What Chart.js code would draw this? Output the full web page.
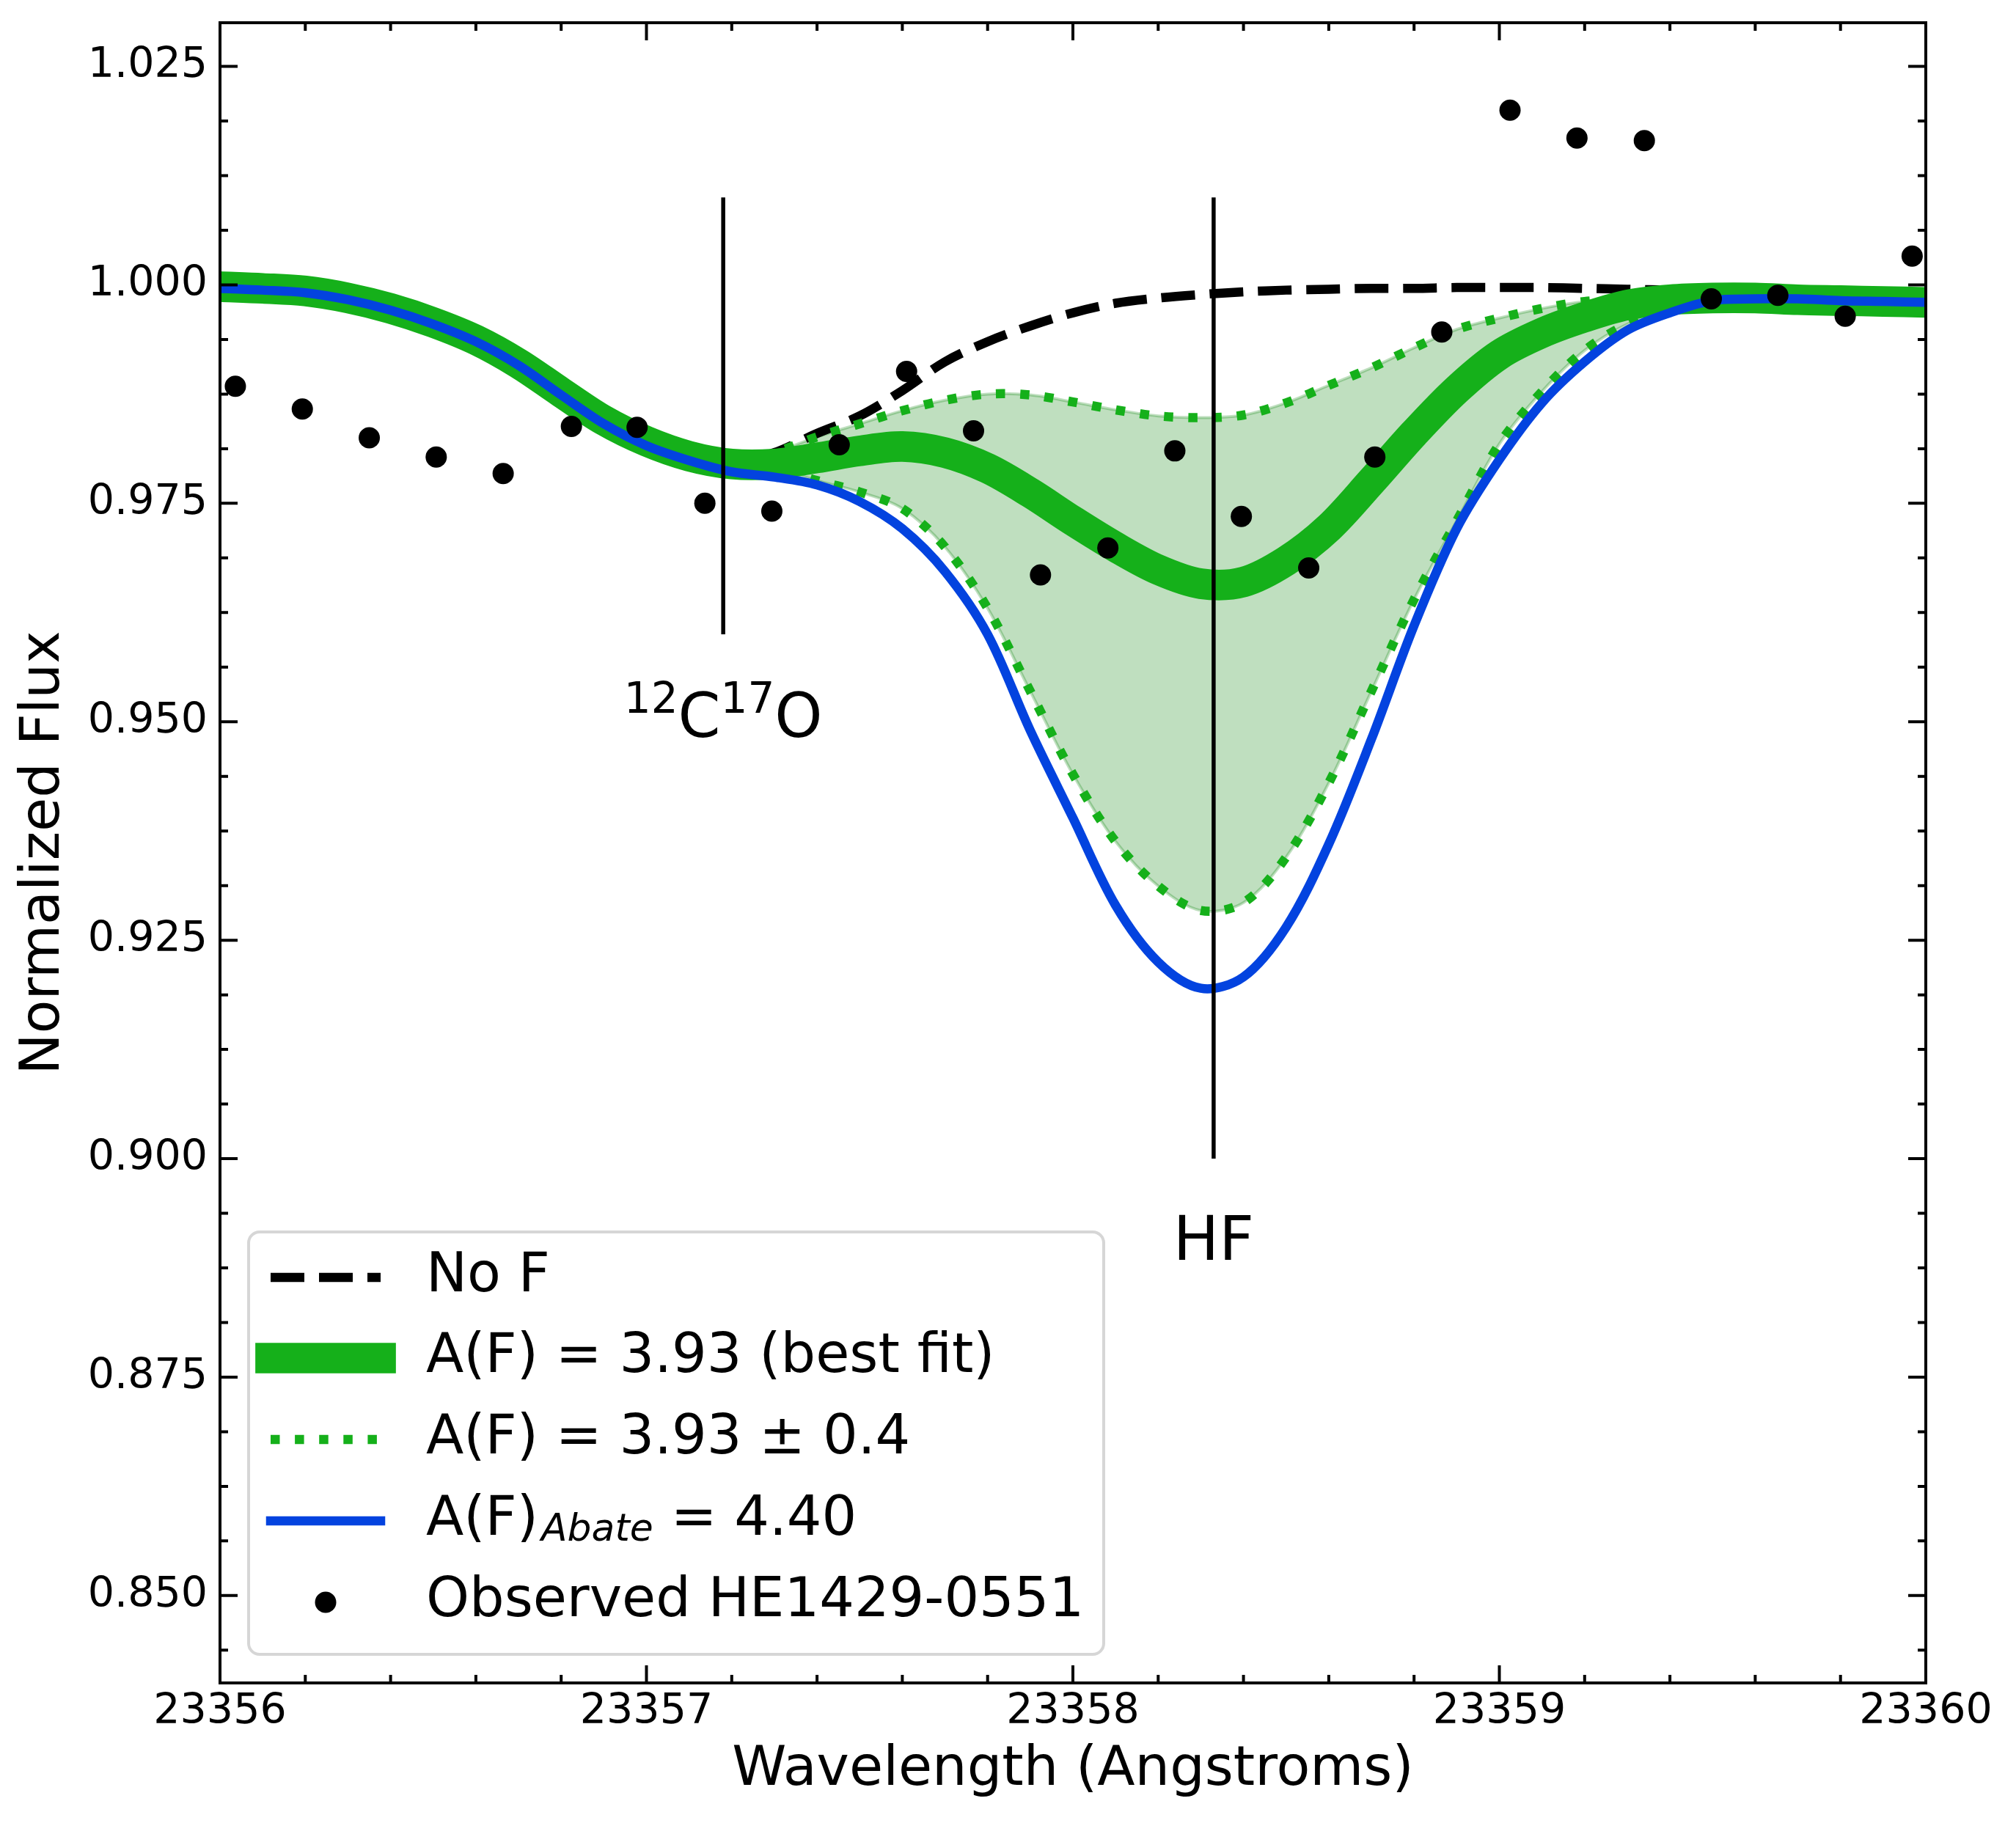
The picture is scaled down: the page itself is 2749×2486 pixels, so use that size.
<!DOCTYPE html>
<html>
<head>
<meta charset="utf-8">
<title>HF 23358 A line fit</title>
<script src="https://cdn.jsdelivr.net/npm/chart.js@4.4.1/dist/chart.umd.min.js"></script>
<style>
  html, body { margin: 0; padding: 0; background: #fff; }
  canvas { display: block; }
</style>
</head>
<body>
<canvas id="spectrum" width="2749" height="2486" style="width:2749px;height:2486px"></canvas>
<script>
// model spectra, sampled every 0.1 A
const modelWave = [
  23356.0, 23356.1, 23356.2, 23356.3, 23356.4, 23356.5, 23356.6, 23356.7, 23356.8, 23356.9,
  23357.0, 23357.1, 23357.2, 23357.3, 23357.4, 23357.5, 23357.6, 23357.7, 23357.8, 23357.9,
  23358.0, 23358.1, 23358.2, 23358.3, 23358.4, 23358.5, 23358.6, 23358.7, 23358.8, 23358.9,
  23359.0, 23359.1, 23359.2, 23359.3, 23359.4, 23359.5, 23359.6, 23359.7, 23359.8, 23359.9,
  23360.0
];
const noF = [
  0.9998, 0.9996, 0.9993, 0.9985, 0.9973, 0.9957, 0.9937, 0.9910, 0.9877, 0.9845,
  0.9821, 0.9804, 0.9795, 0.9808, 0.9830, 0.9850, 0.9879, 0.9912, 0.9935, 0.9953,
  0.9968, 0.9979, 0.9985, 0.9989, 0.9992, 0.9994, 0.9995, 0.9996, 0.9996, 0.9997,
  0.9997, 0.9997, 0.9996, 0.9995, 0.9994, 0.9993, 0.9993, 0.9992, 0.9992, 0.9991,
  0.9991
];
const bestFit = [
  0.9998, 0.9996, 0.9993, 0.9985, 0.9973, 0.9957, 0.9937, 0.9910, 0.9877, 0.9845,
  0.9821, 0.9804, 0.9795, 0.9795, 0.9802, 0.9810, 0.9815, 0.9808, 0.9790, 0.9762,
  0.9730, 0.9700, 0.9674, 0.9658, 0.9660, 0.9684, 0.9722, 0.9775, 0.9830, 0.9880,
  0.9920, 0.9945, 0.9963, 0.9977, 0.9983, 0.9985, 0.9985, 0.9983, 0.9982, 0.9981,
  0.9980
];
const fitUpper = [
  0.9998, 0.9996, 0.9993, 0.9985, 0.9973, 0.9957, 0.9937, 0.9910, 0.9877, 0.9845,
  0.9821, 0.9804, 0.9795, 0.9808, 0.9826, 0.9841, 0.9856, 0.9868, 0.9875, 0.9874,
  0.9866, 0.9857, 0.9850, 0.9848, 0.9851, 0.9865, 0.9885, 0.9905, 0.9928, 0.9949,
  0.9962, 0.9973, 0.9981, 0.9984, 0.9985, 0.9985, 0.9985, 0.9984, 0.9983, 0.9982,
  0.9981
];
const fitLower = [
  0.9998, 0.9996, 0.9993, 0.9985, 0.9973, 0.9957, 0.9937, 0.9910, 0.9877, 0.9845,
  0.9821, 0.9804, 0.9795, 0.9790, 0.9776, 0.9763, 0.9744, 0.9700, 0.9630, 0.9535,
  0.9440, 0.9363, 0.9312, 0.9284, 0.9293, 0.9345, 0.9430, 0.9535, 0.9640, 0.9730,
  0.9818, 0.9878, 0.9925, 0.9955, 0.9972, 0.9980, 0.9982, 0.9982, 0.9981, 0.9981,
  0.9980
];
const abate = [
  0.9996, 0.9994, 0.9991, 0.9983, 0.9971, 0.9955, 0.9935, 0.9908, 0.9874, 0.9841,
  0.9816, 0.9799, 0.9786, 0.9780, 0.9771, 0.9752, 0.9721, 0.9672, 0.9600, 0.9490,
  0.9390, 0.9290, 0.9225, 0.9195, 0.9208, 0.9265, 0.9360, 0.9480, 0.9610, 0.9721,
  0.9800, 0.9865, 0.9912, 0.9948, 0.9968, 0.9982, 0.9984, 0.9984, 0.9982, 0.9981,
  0.9980
];

// observed HE1429-0551
const obsWave = [
  23356.036, 23356.193, 23356.350, 23356.507, 23356.664, 23356.824, 23356.978,
  23357.137, 23357.294, 23357.452, 23357.610, 23357.767, 23357.924, 23358.082,
  23358.239, 23358.395, 23358.553, 23358.708, 23358.865, 23359.025, 23359.182,
  23359.340, 23359.497, 23359.653, 23359.811, 23359.968
];
const obsFlux = [
  0.9884, 0.9858, 0.9825, 0.9803, 0.9784, 0.9838, 0.9837,
  0.9750, 0.9741, 0.9817, 0.9901, 0.9833, 0.9668, 0.9699,
  0.9810, 0.9735, 0.9676, 0.9803, 0.9946, 1.0200, 1.0168,
  1.0165, 0.9984, 0.9988, 0.9964, 1.0033
];

const xTicks = [23356, 23357, 23358, 23359, 23360];
const xTickLabels = ["23356", "23357", "23358", "23359", "23360"];
const yTicks = [0.850, 0.875, 0.900, 0.925, 0.950, 0.975, 1.000, 1.025];
const yTickLabels = ["0.850", "0.875", "0.900", "0.925", "0.950", "0.975", "1.000", "1.025"];

// line identifications: wavelength, marker extent, label baseline
const lineIds = [
  { parts: [["12", true], ["C", false], ["17", true], ["O", false]], wave: 23357.18, low: 0.96, high: 1.01, textAt: 0.9483 },
  { parts: [["HF", false]], wave: 23358.33, low: 0.90, high: 1.01, textAt: 0.8884 }
];

const FONT = "DejaVu Sans";
const GREEN = "#15b01a";
const BLUE = "#0343df";
const FILL = "rgba(0, 128, 0, 0.25)";
const LW = 12.5;

const pairs = (xs, ys) => xs.map((x, i) => ({ x: x, y: ys[i] }));

const curve = (data, extra) => Object.assign({
  data: data,
  pointRadius: 0,
  borderCapStyle: "butt",
  tension: 0.33,
  fill: false,
  clip: 0
}, extra);

const datasets = [
  {
    label: "Observed HE1429-0551",
    data: pairs(obsWave, obsFlux),
    showLine: false,
    pointRadius: 14.5,
    pointBorderWidth: 0,
    pointBackgroundColor: "#000",
    order: 0
  },
  ...lineIds.map((l) => ({
    data: [{ x: l.wave, y: l.low }, { x: l.wave, y: l.high }],
    borderColor: "#000",
    borderWidth: 5.5,
    pointRadius: 0,
    fill: false,
    clip: 0,
    order: 1
  })),
  curve(pairs(modelWave, abate), { borderColor: BLUE, borderWidth: LW, order: 2 }),
  curve(pairs(modelWave, bestFit), { borderColor: GREEN, borderWidth: 41.7, order: 3 }),
  curve(pairs(modelWave, fitUpper), { borderColor: GREEN, borderWidth: LW, borderDash: [12.5, 20.6], order: 4 }),
  curve(pairs(modelWave, fitLower), { borderColor: GREEN, borderWidth: LW, borderDash: [12.5, 20.6], order: 4 }),
  curve(pairs(modelWave, noF), { borderColor: "#000", borderWidth: LW, borderDash: [46, 20], order: 5 }),
  curve(pairs(modelWave, fitUpper), { borderColor: FILL, borderWidth: 4, order: 6 }),
  curve(pairs(modelWave, fitLower), { borderColor: FILL, borderWidth: 4, backgroundColor: FILL, fill: "-1", order: 6 })
];

// inward ticks on all four sides plus the box
const frameTicks = {
  id: "frameTicks",
  afterDatasetsDraw(chart) {
    const { ctx, chartArea: a, scales: { x, y } } = chart;
    ctx.save();
    ctx.strokeStyle = "#000";
    ctx.lineWidth = 4;
    ctx.lineCap = "butt";
    ctx.beginPath();
    const xTick = (v, len) => {
      const px = x.getPixelForValue(v);
      ctx.moveTo(px, a.bottom); ctx.lineTo(px, a.bottom - len);
      ctx.moveTo(px, a.top); ctx.lineTo(px, a.top + len);
    };
    const yTick = (v, len) => {
      const py = y.getPixelForValue(v);
      ctx.moveTo(a.left, py); ctx.lineTo(a.left + len, py);
      ctx.moveTo(a.right, py); ctx.lineTo(a.right - len, py);
    };
    xTicks.forEach((v) => xTick(v, 24));
    for (let i = 0; i < xTicks.length - 1; i++) {
      for (let k = 1; k < 5; k++) xTick(xTicks[i] + k * 0.2, 11);
    }
    yTicks.forEach((v) => yTick(v, 24));
    for (let i = -1; i < yTicks.length; i++) {
      for (let k = 1; k < 4; k++) {
        const v = 0.85 + i * 0.025 + k * 0.00625;
        if (v > y.min && v < y.max) yTick(v, 11);
      }
    }
    ctx.stroke();
    ctx.strokeRect(a.left, a.top, a.width, a.height);
    ctx.restore();
  }
};

const lineLabels = {
  id: "lineLabels",
  afterDatasetsDraw(chart) {
    const { ctx, scales: { x, y } } = chart;
    ctx.save();
    ctx.fillStyle = "#000";
    ctx.textBaseline = "alphabetic";
    ctx.textAlign = "left";
    lineIds.forEach((l) => {
      const fontOf = (sup) => (sup ? "58px " : "83px ") + '"' + FONT + '"';
      let total = 0;
      l.parts.forEach(([t, sup]) => { ctx.font = fontOf(sup); total += ctx.measureText(t).width; });
      let px = x.getPixelForValue(l.wave) - total / 2;
      const base = y.getPixelForValue(l.textAt);
      l.parts.forEach(([t, sup]) => {
        ctx.font = fontOf(sup);
        ctx.fillText(t, px, sup ? base - 32.5 : base);
        px += ctx.measureText(t).width;
      });
    });
    ctx.restore();
  }
};

const legendBox = {
  id: "legendBox",
  afterDraw(chart) {
    const { ctx, chartArea: a } = chart;
    const left = a.left + 39, bottom = a.bottom - 39, w = 1166, h = 576;
    const top = bottom - h;
    ctx.save();
    ctx.beginPath();
    ctx.roundRect(left, top, w, h, 15);
    ctx.fillStyle = "rgba(255,255,255,0.8)";
    ctx.fill();
    ctx.lineWidth = 4;
    ctx.strokeStyle = "#d6d6d6";
    ctx.stroke();

    const x0 = left + 30, x1 = left + 180, tx = left + 242;
    const rows = [62, 172, 283, 394, 505].map((d) => top + d);
    const seg = (yy, color, width, dash, cap) => {
      ctx.beginPath();
      ctx.setLineDash(dash);
      ctx.lineCap = cap;
      ctx.strokeStyle = color;
      ctx.lineWidth = width;
      ctx.moveTo(x0, yy); ctx.lineTo(x1, yy);
      ctx.stroke();
      ctx.setLineDash([]);
    };
    seg(rows[0], "#000", LW, [46, 20], "butt");
    seg(rows[1], GREEN, 41.7, [], "square");
    seg(rows[2], GREEN, LW, [12.5, 20.6], "butt");
    seg(rows[3], BLUE, LW, [], "square");
    ctx.beginPath();
    ctx.fillStyle = "#000";
    ctx.arc((x0 + x1) / 2, rows[4], 14.5, 0, Math.PI * 2);
    ctx.fill();

    const main = '75px "' + FONT + '"';
    ctx.font = main;
    ctx.textBaseline = "middle";
    ctx.textAlign = "left";
    ctx.fillText("No F", tx, rows[0]);
    ctx.fillText("A(F) = 3.93 (best fit)", tx, rows[1]);
    ctx.fillText("A(F) = 3.93 \u00b1 0.4", tx, rows[2]);
    let px = tx;
    ctx.fillText("A(F)", px, rows[3]);
    px += ctx.measureText("A(F)").width + 4;
    ctx.font = 'italic 52px "' + FONT + '"';
    ctx.fillText("Abate", px, rows[3] + 13);
    px += ctx.measureText("Abate").width;
    ctx.font = main;
    ctx.fillText(" = 4.40", px, rows[3]);
    ctx.fillText("Observed HE1429-0551", tx, rows[4]);
    ctx.restore();
  }
};

new Chart(document.getElementById("spectrum"), {
  type: "line",
  data: { datasets: datasets },
  options: {
    responsive: false,
    devicePixelRatio: 1,
    animation: false,
    events: [],
    layout: { padding: { top: 31, right: 123, bottom: 0, left: 0 } },
    plugins: { legend: { display: false }, tooltip: { enabled: false } },
    scales: {
      x: {
        type: "linear",
        position: "bottom",
        min: 23356,
        max: 23360,
        grid: { display: false, drawTicks: false },
        border: { display: false },
        ticks: {
          font: { family: FONT, size: 57 },
          color: "#000",
          padding: 6,
          maxRotation: 0,
          autoSkip: false,
          callback: (v, i) => xTickLabels[i]
        },
        afterBuildTicks: (s) => { s.ticks = xTicks.map((v) => ({ value: v })); },
        afterFit: (s) => { s.height = 191; s.paddingLeft = 0; s.paddingRight = 0; },
        title: {
          display: true,
          text: "Wavelength (Angstroms)",
          color: "#000",
          font: { family: FONT, size: 75 },
          padding: { top: 0, bottom: 26 }
        }
      },
      y: {
        type: "linear",
        position: "left",
        min: 0.84,
        max: 1.03,
        grid: { display: false, drawTicks: false },
        border: { display: false },
        ticks: {
          font: { family: FONT, size: 57 },
          color: "#000",
          padding: 17,
          autoSkip: false,
          callback: (v, i) => yTickLabels[i]
        },
        afterBuildTicks: (s) => { s.ticks = yTicks.map((v) => ({ value: v })); },
        afterFit: (s) => { s.width = 300; s.paddingTop = 0; s.paddingBottom = 0; },
        title: {
          display: true,
          text: "Normalized Flux",
          color: "#000",
          font: { family: FONT, size: 75 },
          padding: { top: 16, bottom: 0 }
        }
      }
    }
  },
  plugins: [frameTicks, lineLabels, legendBox]
});
</script>
</body>
</html>
